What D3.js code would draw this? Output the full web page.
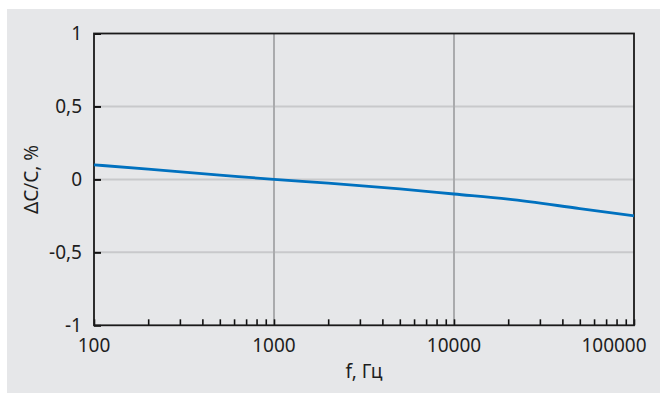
<!DOCTYPE html>
<html>
<head>
<meta charset="utf-8">
<script src="https://cdn.jsdelivr.net/npm/d3@7"></script>
<style>
  body { margin: 0; background: #fff; }
  text { font-family: "Noto Sans", sans-serif; fill: #1e1e1e; }
</style>
</head>
<body>
<svg id="chart"></svg>
<script>
const width = 660;
const height = 393;
const margin = {top: 33.5, right: 26, bottom: 68, left: 94};

// data
const freq = [100, 200, 500, 1000, 2000, 5000, 10000, 20000, 50000, 100000];
const dcc = [0.1, 0.07, 0.03, 0, -0.025, -0.065, -0.1, -0.135, -0.2, -0.25];
const xTicks = [100, 1000, 10000, 100000];
const yTicks = [-1, -0.5, 0, 0.5, 1];
const xGrid = [1000, 10000];
const yGrid = [-0.5, 0, 0.5];

const svg = d3.select('#chart')
    .attr('width', width)
    .attr('height', height);

svg.append('rect')
    .attr('x', 7).attr('y', 9)
    .attr('width', width - 7).attr('height', height - 9)
    .attr('fill', '#e6e7e9');

const x = d3.scaleLog().domain([100, 100000]).range([margin.left, width - margin.right]);
const y = d3.scaleLinear().domain([-1, 1]).range([height - margin.bottom + 0.3, margin.top]);

// grid
svg.selectAll('.hgrid').data(yGrid).enter().append('line')
    .attr('x1', x(100)).attr('x2', x(100000))
    .attr('y1', d => y(d)).attr('y2', d => y(d))
    .attr('stroke', '#c8c9cb').attr('stroke-width', 2);

svg.selectAll('.vgrid').data(xGrid).enter().append('line')
    .attr('x1', d => x(d)).attr('x2', d => x(d))
    .attr('y1', y(1)).attr('y2', y(-1))
    .attr('stroke', '#aaabad').attr('stroke-width', 2);

// minor + major ticks on x, pointing inward
const xTickVals = [];
for (let dec = 100; dec < 100000; dec *= 10)
    for (let k = 1; k <= 9; k++) xTickVals.push(dec * k);
xTickVals.push(100000);

const xAxis = svg.append('g')
    .attr('transform', `translate(0, ${y(-1)})`)
    .call(d3.axisBottom(x).tickValues(xTickVals).tickSize(-6).tickFormat(''));
xAxis.select('.domain').remove();
xAxis.selectAll('line').attr('stroke', '#111').attr('stroke-width', 1.6);

const yAxis = svg.append('g')
    .attr('transform', `translate(${x(100)}, 0)`)
    .call(d3.axisLeft(y).tickValues(yTicks).tickSize(-7).tickFormat(''));
yAxis.select('.domain').remove();
yAxis.selectAll('line').attr('stroke', '#111').attr('stroke-width', 2);

// frame
svg.append('rect')
    .attr('x', x(100)).attr('y', y(1))
    .attr('width', x(100000) - x(100)).attr('height', y(-1) - y(1))
    .attr('fill', 'none').attr('stroke', '#1a1a1a').attr('stroke-width', 1.8);

// tick labels
const fmt = d3.format('');
svg.selectAll('.xlab').data(xTicks).enter().append('text')
    .attr('x', d => x(d))
    .attr('dx', d => d === 100000 ? -20 : 0)
    .attr('y', y(-1) + 27)
    .attr('text-anchor', 'middle')
    .attr('font-size', 19)
    .text(d => fmt(d));

svg.selectAll('.ylab').data(yTicks).enter().append('text')
    .attr('x', x(100) - 12)
    .attr('y', d => y(d))
    .attr('dy', '0.35em')
    .attr('text-anchor', 'end')
    .attr('font-size', 19)
    .text(d => String(d).replace('.', ','));

// curve
const line = d3.line()
    .x((d, i) => x(freq[i]))
    .y(d => y(d))
    .curve(d3.curveMonotoneX);

svg.append('path')
    .datum(dcc)
    .attr('fill', 'none')
    .attr('stroke', '#0071bf')
    .attr('stroke-width', 2.8)
    .attr('d', line);

// axis titles
svg.append('text')
    .attr('x', (x(100) + x(100000)) / 2)
    .attr('y', 378)
    .attr('text-anchor', 'middle')
    .attr('font-size', 19)
    .text('f, Гц');

svg.append('text')
    .attr('transform', `translate(38, ${(y(1) + y(-1)) / 2}) rotate(-90)`)
    .attr('text-anchor', 'middle')
    .attr('font-size', 19)
    .text('ΔC/C, %');
</script>
</body>
</html>
